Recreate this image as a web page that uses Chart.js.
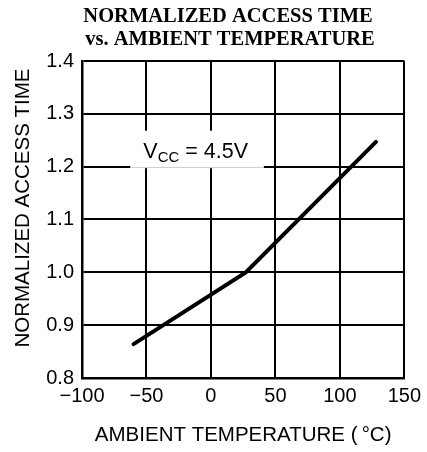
<!DOCTYPE html>
<html>
<head>
<meta charset="utf-8">
<script src="https://cdn.jsdelivr.net/npm/chart.js@4.4.0/dist/chart.umd.min.js"></script>
<style>
  html, body { margin: 0; padding: 0; background: #fff; }
  #wrap { width: 427px; height: 452px; }
</style>
</head>
<body>
<div id="wrap"><canvas id="chart" width="427" height="452"></canvas></div>
<script>
// Chart data
const temperatures = [-60, 27, 128];
const accessTime = [0.864, 1.0, 1.247];
const xTicks = [-100, -50, 0, 50, 100, 150];
const yTicks = [0.8, 0.9, 1.0, 1.1, 1.2, 1.3, 1.4];
const titleLines = ['NORMALIZED ACCESS TIME', 'vs. AMBIENT TEMPERATURE'];
const yTitle = 'NORMALIZED ACCESS TIME';

const sans = '"Liberation Sans", Arial, sans-serif';

// Titles drawn by hand so they sit where the original has them
const titlePlugin = {
    id: 'handTitles',
    afterDraw(chart) {
        const ctx = chart.ctx;
        ctx.save();
        ctx.fillStyle = '#000';
        ctx.font = 'bold 20.5px "Liberation Serif", "DejaVu Serif", serif';
        ctx.textAlign = 'center';
        ctx.textBaseline = 'alphabetic';
        ctx.fillText(titleLines[0], 228, 22);
        ctx.fillText(titleLines[1], 230, 45);

        // rotated y axis title
        ctx.translate(23, 208);
        ctx.rotate(-Math.PI / 2);
        ctx.font = '20.5px ' + sans;
        ctx.textBaseline = 'middle';
        ctx.fillText(yTitle, 0, 0);
        ctx.restore();
    }
};

// White label box with V_CC = 4.5V, covers the grid behind it
const labelPlugin = {
    id: 'vccLabel',
    beforeDatasetsDraw(chart) {
        const ctx = chart.ctx;
        const x = chart.scales.x, y = chart.scales.y;
        const x0 = x.getPixelForValue(-62.5), x1 = x.getPixelForValue(41);
        const y0 = y.getPixelForValue(1.268), y1 = y.getPixelForValue(1.2);
        ctx.save();
        ctx.fillStyle = '#fff';
        ctx.fillRect(x0, y0, x1 - x0, y1 - y0 + 1.5);
        ctx.strokeStyle = '#d0d0d0';
        ctx.lineWidth = 1;
        ctx.beginPath();
        ctx.moveTo(x0, Math.round(y1) + 0.5);
        ctx.lineTo(x1, Math.round(y1) + 0.5);
        ctx.stroke();

        ctx.fillStyle = '#000';
        ctx.textBaseline = 'alphabetic';
        ctx.textAlign = 'left';
        const base = y0 + 27;
        let tx = x0 + 13;
        ctx.font = '21.5px ' + sans;
        ctx.fillText('V', tx, base);
        tx += ctx.measureText('V').width;
        ctx.font = '15px ' + sans;
        ctx.fillText('CC', tx, base + 4);
        tx += ctx.measureText('CC').width;
        ctx.font = '21.5px ' + sans;
        ctx.fillText(' = 4.5V', tx, base);
        ctx.restore();
    }
};

const tickFont = { family: sans, size: 20 };
const titleFont = { family: sans, size: 20.5 };

new Chart(document.getElementById('chart').getContext('2d'), {
    type: 'line',
    data: {
        datasets: [{
            data: temperatures.map((t, i) => ({ x: t, y: accessTime[i] })),
            borderColor: '#000',
            borderWidth: 4,
            pointRadius: 0,
            tension: 0,
            fill: false,
            borderCapStyle: 'round'
        }]
    },
    options: {
        responsive: false,
        animation: false,
        layout: { padding: { top: 61, right: 0, left: 0, bottom: 0 } },
        plugins: {
            legend: { display: false },
            tooltip: { enabled: false }
        },
        scales: {
            x: {
                type: 'linear',
                min: -100,
                max: 150,
                afterBuildTicks(scale) { scale.ticks = xTicks.map(v => ({ value: v })); },
                afterFit(scale) { scale.height = 452 - 378; },
                grid: { color: '#000', lineWidth: 2, drawTicks: false },
                border: { color: '#000', width: 2.5 },
                ticks: {
                    color: '#000',
                    font: tickFont,
                    padding: 6,
                    maxRotation: 0,
                    autoSkip: false,
                    callback: v => (v < 0 ? '\u2212' + Math.abs(v) : String(v))
                },
                title: {
                    display: true,
                    text: 'AMBIENT TEMPERATURE (\u2009\u00B0C)',
                    color: '#000',
                    font: titleFont,
                    padding: { top: 17 }
                }
            },
            y: {
                type: 'linear',
                min: 0.8,
                max: 1.4,
                afterBuildTicks(scale) { scale.ticks = yTicks.map(v => ({ value: v })); },
                afterFit(scale) { scale.width = 82; },
                grid: { color: '#000', lineWidth: 2, drawTicks: false },
                border: { color: '#000', width: 2.5 },
                ticks: {
                    color: '#000',
                    font: tickFont,
                    padding: 8,
                    callback: v => v.toFixed(1)
                }
            }
        }
    },
    plugins: [titlePlugin, labelPlugin]
});
</script>
</body>
</html>
